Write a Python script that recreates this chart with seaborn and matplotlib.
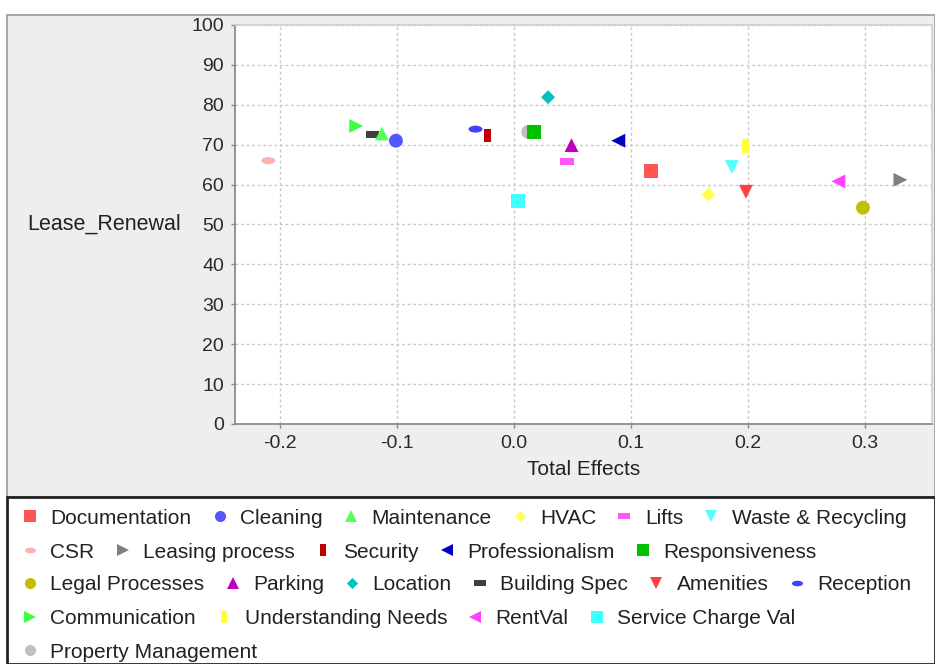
import numpy as np
import pandas as pd
import seaborn as sns
import matplotlib.pyplot as plt
from matplotlib.path import Path
from matplotlib.lines import Line2D
from matplotlib.patches import Rectangle

# factors in legend order
factors = ['Documentation', 'Cleaning', 'Maintenance', 'HVAC', 'Lifts', 'Waste & Recycling',
           'CSR', 'Leasing process', 'Security', 'Professionalism', 'Responsiveness',
           'Legal Processes', 'Parking', 'Location', 'Building Spec', 'Amenities', 'Reception',
           'Communication', 'Understanding Needs', 'RentVal', 'Service Charge Val',
           'Property Management']
total_effects = [0.117, -0.101, -0.113, 0.166, 0.045, 0.186,
                 -0.210, 0.330, -0.023, 0.089, 0.017,
                 0.298, 0.049, 0.029, -0.121, 0.198, -0.033,
                 -0.135, 0.198, 0.277, 0.003,
                 0.012]
lease_renewal = [63.5, 71.0, 72.8, 57.5, 65.8, 64.4,
                 66.0, 61.2, 72.3, 71.0, 73.2,
                 54.2, 69.9, 81.9, 72.6, 58.2, 73.9,
                 74.7, 69.7, 60.8, 55.8,
                 73.2]
colors = ['#FF5555', '#5555FF', '#55FF55', '#FFFF55', '#FF55FF', '#55FFFF',
          '#FFAFAF', '#808080', '#C00000', '#0000C0', '#00C000',
          '#C0C000', '#C000C0', '#00C0C0', '#404040', '#FF4040', '#4040FF',
          '#40FF40', '#FFFF40', '#FF40FF', '#40FFFF',
          '#C0C0C0']
shape_cycle = ['square', 'circle', 'up', 'diamond', 'hrect', 'down', 'hellipse', 'right', 'vrect', 'left']
legend_rows = [6, 5, 6, 4, 1]

# JFreeChart-like shapes
circ = Path.unit_circle()
shapes = {
    'square': Path([(-1, -1), (1, -1), (1, 1), (-1, 1), (-1, -1)], closed=True),
    'circle': 'o',
    'up': '^',
    'diamond': Path([(0, 1), (1, 0), (0, -1), (-1, 0), (0, 1)], closed=True),
    'hrect': Path([(-1, -0.5), (1, -0.5), (1, 0.5), (-1, 0.5), (-1, -0.5)], closed=True),
    'down': 'v',
    'hellipse': Path(circ.vertices * [1, 0.5], circ.codes),
    'right': '>',
    'vrect': Path([(-0.5, -1), (0.5, -1), (0.5, 1), (-0.5, 1), (-0.5, -1)], closed=True),
    'left': '<',
}
marker_of = {f: shapes[shape_cycle[i % len(shape_cycle)]] for i, f in enumerate(factors)}
palette = dict(zip(factors, colors))

df = pd.DataFrame({'Factor': factors, 'Total Effects': total_effects,
                   'Lease_Renewal': lease_renewal})

sns.set_theme(style='white')
plt.rcParams['font.family'] = ['Liberation Sans', 'DejaVu Sans']

W, H = 935, 664
fig = plt.figure(figsize=(W / 100, H / 100), dpi=100, facecolor='white')

# chart panel and legend panel backgrounds
fig.patches.append(Rectangle((7 / W, 1 - 497 / H), 1 - 7 / W, (497 - 15) / H, transform=fig.transFigure,
                             facecolor='#eeeeee', edgecolor='#999999', lw=1.2, zorder=-10))
fig.patches.append(Rectangle((7 / W, 0), 1 - 7 / W, 1 - 497 / H, transform=fig.transFigure,
                             facecolor='white', edgecolor='#222222', lw=2, zorder=-9))

ax = fig.add_axes([235 / W, 1 - 424 / H, (932 - 235) / W, (424 - 25) / H])
ax.set_facecolor('white')

# reverse so the first series ends on top
sns.scatterplot(data=df.iloc[::-1], x='Total Effects', y='Lease_Renewal', hue='Factor',
                style='Factor', palette=palette, markers=marker_of, s=100, linewidth=0,
                legend=False, ax=ax, zorder=3)

ax.set_xlim(-0.2385, 0.357)
ax.set_ylim(0, 100)
ax.set_xticks([-0.2, -0.1, 0.0, 0.1, 0.2, 0.3])
ax.set_xticklabels(['-0.2', '-0.1', '0.0', '0.1', '0.2', '0.3'])
ax.set_yticks(range(0, 101, 10))
ax.grid(True, color='#c8c8c8', linestyle=(0, (2, 2)), linewidth=1)
for side in ['left', 'bottom']:
    ax.spines[side].set_color('#888888')
for side in ['top', 'right']:
    ax.spines[side].set_color('#d0d0d0')
ax.tick_params(axis='both', direction='out', length=3, width=1, color='#888888',
               labelsize=14, labelcolor='#2a2a2a', pad=5)
ax.tick_params(axis='both', bottom=True, left=True)

ax.set_xlabel('Total Effects', fontsize=15, color='#222222', labelpad=6)
ax.set_ylabel('Lease_Renewal', fontsize=15.5, color='#222222', rotation=0,
              ha='right', va='center')
ax.yaxis.set_label_coords(-0.077, 0.5)

# flow-style legend, one row at a time
row_y = [517, 551, 584, 618, 651]
start = 0
for n, y in zip(legend_rows, row_y):
    names = factors[start:start + n]
    handles = [Line2D([], [], linestyle='', marker=marker_of[f], markersize=8,
                      markerfacecolor=palette[f], markeredgewidth=0) for f in names]
    fig.legend(handles, names, loc='center left', bbox_to_anchor=(19.6 / W, 1 - (y + 1) / H),
               ncol=n, frameon=False, fontsize=15, handlelength=1.0, handletextpad=0.48,
               columnspacing=0.85, borderpad=0, borderaxespad=0, labelcolor='#222222')
    start += n

fig.savefig('out.png', dpi=100)
